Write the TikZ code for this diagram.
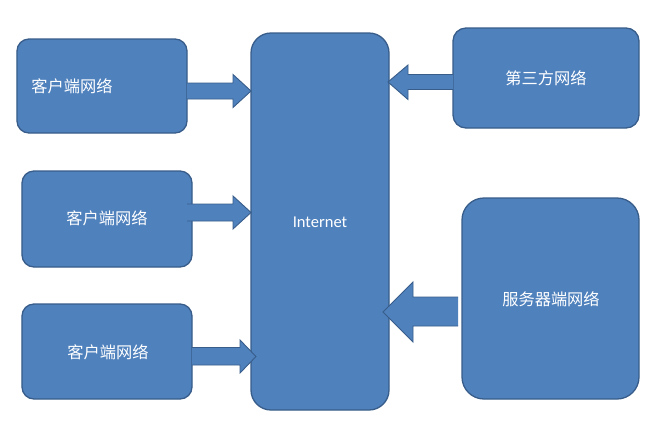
\documentclass[tikz,border=0pt]{standalone}
\usepackage{fontspec}
\newfontfamily\cjk{Noto Sans CJK SC}
\newfontfamily\latn{Carlito}
\definecolor{boxfill}{HTML}{4F81BD}
\definecolor{boxline}{HTML}{385D8A}
\begin{document}
\begin{tikzpicture}[x=1bp,y=-1bp,
  box/.style={draw=boxline,line width=1.3bp,fill=boxfill,inner sep=0pt},
  lbl/.style={text=white,font=\cjk\fontsize{16.3}{18}\selectfont,inner sep=0pt},
  barrow/.style={draw=boxline,line width=0.9bp,fill=boxfill,line join=miter}]
\useasboundingbox (0,0) rectangle (648,428);
\fill[white] (0,0) rectangle (648,428);
% boxes
\node[box,rounded corners=12bp,minimum width=170bp,minimum height=94bp] (c1) at (102,86) {};
\node[box,rounded corners=12bp,minimum width=170bp,minimum height=96bp] (c2) at (107,219) {};
\node[box,rounded corners=12bp,minimum width=170bp,minimum height=95bp] (c3) at (107,351.5) {};
\node[box,rounded corners=20bp,minimum width=138bp,minimum height=377bp] (inet) at (320,221.5) {};
\node[box,rounded corners=13bp,minimum width=186bp,minimum height=100bp] (tp) at (546,78) {};
\node[box,rounded corners=22bp,minimum width=177bp,minimum height=201bp] (srv) at (550.5,298.5) {};
% labels
\node[lbl] (t1) at (72,86) {客户端网络};
\node[lbl] (t2) at (107,218) {客户端网络};
\node[lbl] (t3) at (108,352) {客户端网络};
\node[lbl,font=\latn\fontsize{16.6}{18}\selectfont] (t4) at (320,222) {Internet};
\node[lbl] (t5) at (546,78) {第三方网络};
\node[lbl] (t6) at (551,299) {服务器端网络};
% block arrows
\draw[barrow] (187,83) -- (233,83) -- (233,74.5) -- (251,91) -- (233,107.5) -- (233,99) -- (187,99);
\draw[barrow] (187,204) -- (233,204) -- (233,196) -- (251,212.5) -- (233,229) -- (233,221) -- (187,221);
\draw[barrow] (192,347.5) -- (240,347.5) -- (240,340) -- (256,356.5) -- (240,373) -- (240,365) -- (192,365);
\draw[barrow] (453,74.5) -- (408,74.5) -- (408,65) -- (388,82) -- (408,99.5) -- (408,89.5) -- (453,89.5);
\draw[barrow] (458,297) -- (413,297) -- (413,282) -- (383,312) -- (413,342) -- (413,326) -- (458,326);
\end{tikzpicture}
\end{document}
